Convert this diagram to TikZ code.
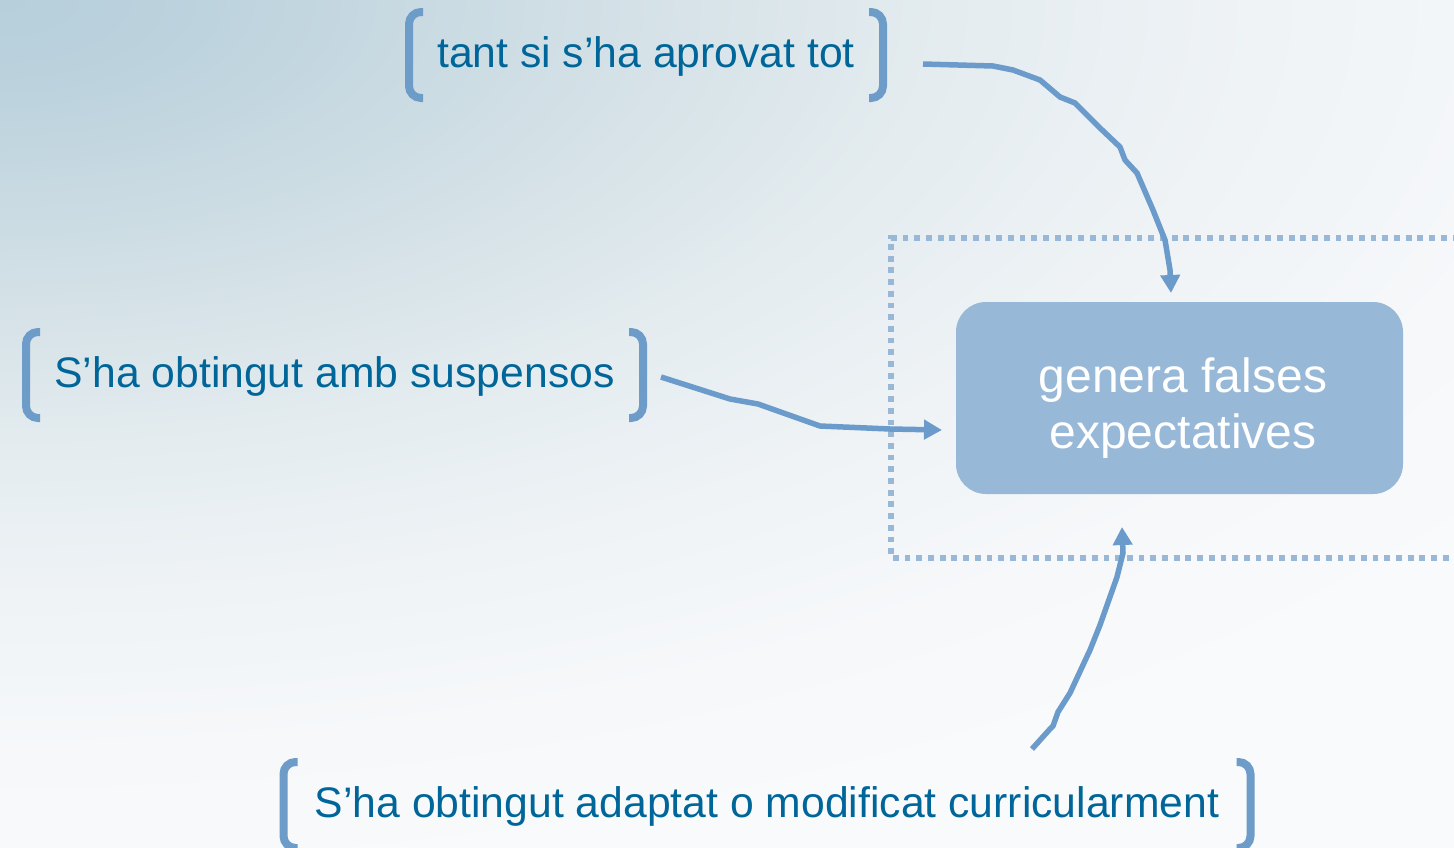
\documentclass[tikz,border=0pt]{standalone}
\usepackage{fontspec}
\setmainfont{Liberation Sans}
\usetikzlibrary{arrows.meta}
\definecolor{txtblue}{HTML}{00669A}
\definecolor{brkblue}{HTML}{6E9CC9}
\definecolor{arrblue}{HTML}{6A9BCA}
\definecolor{boxfill}{HTML}{98B8D8}
\definecolor{dotblue}{HTML}{99B8D8}
\definecolor{bgA}{HTML}{B6CFDB}
\definecolor{bgB}{HTML}{BDD3DE}
\definecolor{bgC}{HTML}{C9DAE2}
\definecolor{bgD}{HTML}{D4E1E7}
\definecolor{bgE}{HTML}{E4ECEF}
\definecolor{bgF}{HTML}{EFF3F6}
\definecolor{bgG}{HTML}{F6F8FA}
\definecolor{bgH}{HTML}{F9FAFB}
\pgfdeclareradialshading{bgshade}{\pgfpoint{0bp}{0bp}}{%
  color(0bp)=(bgA); color(2.5bp)=(bgB); color(5bp)=(bgC); color(7.5bp)=(bgD);
  color(11.25bp)=(bgE); color(15bp)=(bgF); color(18.75bp)=(bgG); color(22.5bp)=(bgH);
  color(50bp)=(bgH)}
\begin{document}
\begin{tikzpicture}[x=1pt,y=-1pt,
  lbl/.style={font=\fontsize{42.7}{50}\selectfont, text=txtblue, text height=32pt,
    text depth=7pt, inner sep=0pt, outer sep=0pt, minimum height=86pt},
  brk/.style={draw=brkblue, line width=8pt, rounded corners=12pt},
  conn/.style={draw=arrblue, line width=5.5pt, line join=round,
    -{Triangle[length=18pt,width=19pt]}},
  mainbox/.style={fill=boxfill, draw=none, rounded corners=30pt, inner sep=0pt,
    outer sep=0pt, minimum width=447pt, minimum height=192pt},
  boxtext/.style={font=\fontsize{48}{56}\selectfont, text=white, align=center, inner sep=0pt},
  dotframe/.style={draw=dotblue, line width=5.7pt, dash pattern=on 5.8pt off 5.9pt}
]
\useasboundingbox (0,0) rectangle (1454,847);
\begin{scope}
  \clip (0,0) rectangle (1454,847);
  \shade[shading=bgshade] (-2100,-1000) rectangle (2100,1000);
\end{scope}

% dotted frame
\draw[dotframe] (1470,238) -- (891,238) -- (891,558) -- (1470,558);

% central box
\node[mainbox] (b) at (1179.5,398) {};
\node[boxtext] (bt) at (1183,408) {genera falses\\expectatives};

% bracket labels
\node[lbl, minimum width=474pt] (t1) at (646,55) {tant si s’ha aprovat tot};
\node[lbl, minimum width=617pt] (t2) at (334.5,375) {S’ha obtingut amb suspensos};
\node[lbl, minimum width=967pt] (t3) at (767,805) {S’ha obtingut adaptat o modificat curricularment};

\foreach \n in {t1,t2,t3}{
  \draw[brk] ([xshift=14pt]\n.north west) -- (\n.north west) -- (\n.south west) -- ([xshift=14pt]\n.south west);
  \draw[brk] ([xshift=-14pt]\n.north east) -- (\n.north east) -- (\n.south east) -- ([xshift=-14pt]\n.south east);
}

% connectors
\draw[conn] ([xshift=40pt,yshift=-9pt]t1.east) -- (993,66) -- (1013,70) -- (1040,80) -- (1060,97)
  -- (1075,103) -- (1100,128) -- (1120,147) -- (1125,160) -- (1137,173) -- (1153,210)
  -- (1165,240) -- (1170,270) -- ([xshift=-8.5pt,yshift=9pt]b.north);
\draw[conn] ([xshift=18pt,yshift=-2pt]t2.east) -- (730,399) -- (758,404) -- (820,426)
  -- (890,429) -- ([xshift=-14pt,yshift=-32pt]b.west);
\draw[conn] ([xshift=265pt,yshift=13pt]t3.north) -- (1050,729) -- (1053,726) -- (1058,712)
  -- (1070,693) -- (1090,650) -- (1100,625) -- (1117,577) -- (1123,553)
  -- ([xshift=-57.5pt,yshift=-33pt]b.south);
\end{tikzpicture}
\end{document}
